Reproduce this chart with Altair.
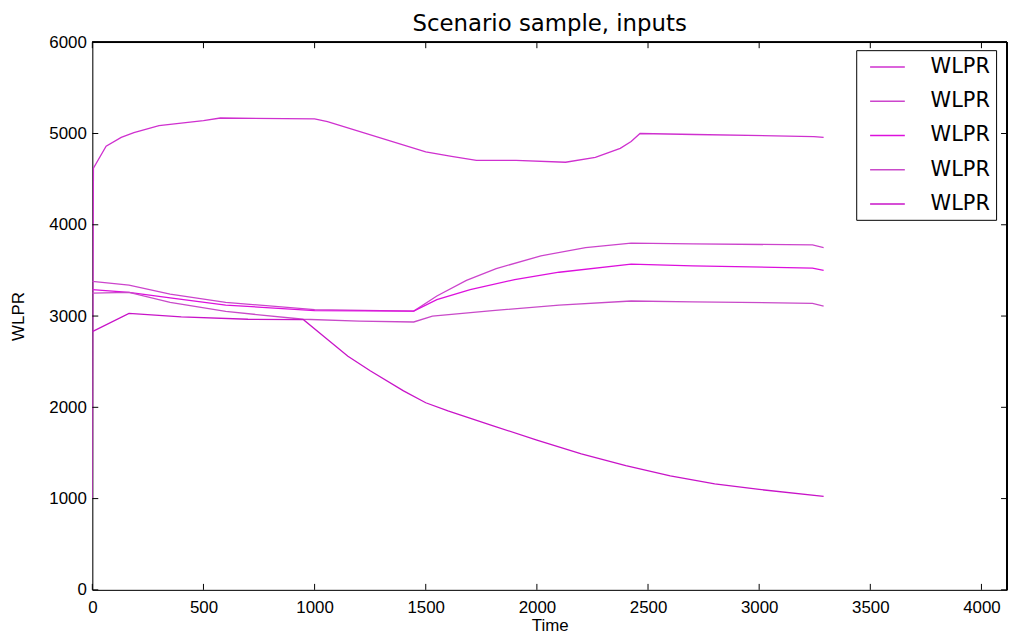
import altair as alt
import pandas as pd

series_names = ["s1", "s2", "s3", "s4", "s5"]
legend_label = "WLPR"
colors = ["#cf30cf", "#cc44cc", "#dd10dd", "#c94ac9", "#c814c8"]

t_A = [0, 5, 62, 130, 187, 300, 500, 576, 1000, 1058, 1500, 1616, 1728, 1906, 2129, 2263, 2375, 2424, 2464, 2710, 3246, 3290]
v_A = [1000, 4620, 4860, 4957, 5010, 5087, 5141, 5170, 5160, 5130, 4800, 4750, 4706, 4706, 4685, 4739, 4837, 4913, 5000, 4989, 4967, 4957]

t_B = [0, 165, 350, 600, 1000, 1446, 1550, 1683, 1817, 2018, 2219, 2424, 2700, 3240, 3290]
v_B = [3380, 3340, 3240, 3150, 3070, 3055, 3220, 3390, 3520, 3660, 3750, 3800, 3790, 3780, 3750]

t_C = [0, 165, 350, 600, 1000, 1446, 1550, 1700, 1900, 2100, 2424, 2700, 3240, 3290]
v_C = [3290, 3260, 3200, 3120, 3060, 3055, 3180, 3290, 3400, 3480, 3570, 3550, 3525, 3500]

t_D = [0, 165, 350, 600, 950, 1200, 1446, 1530, 1800, 2100, 2424, 2700, 3240, 3290]
v_D = [3250, 3260, 3150, 3050, 2965, 2945, 2935, 3000, 3060, 3120, 3165, 3155, 3140, 3110]

t_E = [0, 165, 400, 700, 950, 1050, 1150, 1250, 1400, 1500, 1600, 1800, 2000, 2200, 2400, 2600, 2800, 3000, 3290]
v_E = [2830, 3030, 2990, 2965, 2960, 2760, 2560, 2400, 2180, 2050, 1960, 1800, 1640, 1490, 1360, 1250, 1160, 1100, 1025]

x_ticks = [0, 500, 1000, 1500, 2000, 2500, 3000, 3500, 4000]
y_ticks = [0, 1000, 2000, 3000, 4000, 5000, 6000]

W, H = 922, 552
FONT = "DejaVu Sans"

rows = []
for name, ts, vs in zip(series_names, [t_A, t_B, t_C, t_D, t_E], [v_A, v_B, v_C, v_D, v_E]):
    for i, (t, v) in enumerate(zip(ts, vs)):
        rows.append({"series": name, "t": t, "v": v, "i": i})
df = pd.DataFrame(rows)

xscale = alt.Scale(domain=[0, 4115], nice=False, zero=False)
yscale = alt.Scale(domain=[0, 6000], nice=False, zero=False)

lines = alt.Chart(df).mark_line(strokeWidth=1.3, clip=True).encode(
    x=alt.X("t:Q", scale=xscale,
            axis=alt.Axis(values=x_ticks, title="Time", format="d", ticks=False, grid=False,
                          domain=True, domainColor="black",
                          labelFontSize=17, titleFontSize=17, labelPadding=10, titlePadding=2,
                          titleFontWeight="normal", labelFlush=False)),
    y=alt.Y("v:Q", scale=yscale,
            axis=alt.Axis(values=y_ticks, title="WLPR", format="d", ticks=False, grid=False,
                          domain=True, domainColor="black",
                          labelFontSize=17, titleFontSize=17, labelPadding=6, titlePadding=22,
                          titleFontWeight="normal", labelFlush=False)),
    color=alt.Color("series:N", scale=alt.Scale(domain=series_names, range=colors),
                    legend=alt.Legend(title=None, orient="none", legendX=770, legendY=8,
                                      labelExpr="'" + legend_label + "'",
                                      symbolType="M-0.3,0H3.2", symbolSize=400,
                                      symbolStrokeWidth=1.5, labelFontSize=21,
                                      labelFont=FONT, labelColor="black",
                                      labelOffset=47, rowPadding=13.5, padding=6,
                                      strokeColor="black", fillColor="white")),
    order=alt.Order("i:Q"),
)

xt = pd.DataFrame({"t": x_ticks})
yt = pd.DataFrame({"v": y_ticks})
tick_len = 6
xb = alt.Chart(xt).mark_rule(color="black", strokeWidth=1).encode(
    x=alt.X("t:Q", scale=xscale), y=alt.value(H), y2=alt.value(H - tick_len))
xtop = alt.Chart(xt).mark_rule(color="black", strokeWidth=1).encode(
    x=alt.X("t:Q", scale=xscale), y=alt.value(0), y2=alt.value(tick_len))
yl = alt.Chart(yt).mark_rule(color="black", strokeWidth=1).encode(
    y=alt.Y("v:Q", scale=yscale), x=alt.value(0), x2=alt.value(tick_len))
yr = alt.Chart(yt).mark_rule(color="black", strokeWidth=1).encode(
    y=alt.Y("v:Q", scale=yscale), x=alt.value(W), x2=alt.value(W - tick_len))
top_edge = alt.Chart(xt).mark_rule(color="black", strokeWidth=1).encode(
    x=alt.value(0), x2=alt.value(W), y=alt.value(0))
right_edge = alt.Chart(xt).mark_rule(color="black", strokeWidth=1).encode(
    x=alt.value(W), y=alt.value(0), y2=alt.value(H))

chart = alt.layer(lines, xb, xtop, yl, yr, top_edge, right_edge).properties(
    width=W, height=H,
    title=alt.TitleParams("Scenario sample, inputs", fontSize=23, fontWeight="normal",
                          font=FONT, color="black", offset=8, dy=11),
    autosize=alt.AutoSizeParams(type="none"),
    padding={"left": 85, "top": 32, "right": 1, "bottom": 44},
).configure_view(stroke=None).configure_axis(
    labelFont=FONT, titleFont=FONT, labelColor="black", titleColor="black"
).configure(background="white")

chart.save("out.html", embed_options={"renderer": "svg", "actions": False})
